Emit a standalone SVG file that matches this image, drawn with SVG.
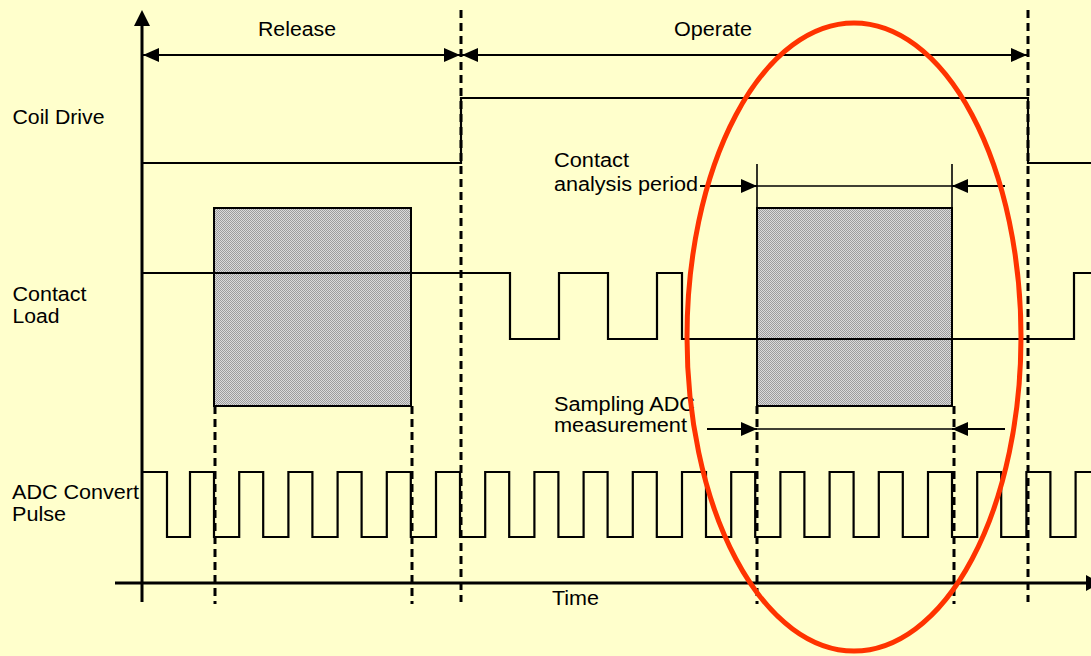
<svg xmlns="http://www.w3.org/2000/svg" width="1091" height="656" viewBox="0 0 1091 656">
<style>
.wave{fill:none;stroke:#000;stroke-width:2.2;stroke-linejoin:miter}
.axis{fill:none;stroke:#000;stroke-width:3}
.dash{fill:none;stroke:#000;stroke-width:3;stroke-dasharray:8 5}
.thin{fill:none;stroke:#000;stroke-width:1.6}
.dim{fill:none;stroke:#000;stroke-width:2}
.lbl{font-family:"Liberation Sans",Arial,sans-serif;font-size:19.5px;fill:#000}
.box{fill:url(#stipple);stroke:#000;stroke-width:2}
</style>
<defs>
<pattern id="stipple" width="2" height="2" patternUnits="userSpaceOnUse">
<rect width="2" height="2" fill="#dadada"/>
<rect x="0" y="0" width="1" height="1" fill="#9c9c9c"/>
<rect x="1" y="1" width="1" height="1" fill="#9c9c9c"/>
</pattern>
<marker id="ah" viewBox="0 0 16 14" refX="16" refY="7" markerWidth="16" markerHeight="14" markerUnits="userSpaceOnUse" orient="auto-start-reverse">
<path d="M0,0 L16,7 L0,14 Z" fill="#000"/>
</marker>
</defs>
<rect width="1091" height="656" fill="#ffffcc"/>

<g id="windows">
<rect class="box" x="214" y="208" width="197" height="198"/>
<rect class="box" x="757" y="208" width="195" height="198"/>
</g>

<g id="axes">
<line class="axis" x1="142" y1="24" x2="142" y2="602"/>
<polygon points="142,10 134,26 150,26" fill="#000"/>
<line class="axis" x1="115" y1="583" x2="1088" y2="583"/>
<polygon points="1086,575 1101,583 1086,591" fill="#000"/>
</g>

<g id="guides">
<line class="dash" x1="461" y1="10" x2="461" y2="602"/>
<line class="dash" x1="1028" y1="10" x2="1028" y2="602"/>
<line class="dash" x1="215" y1="406" x2="215" y2="604"/>
<line class="dash" x1="412" y1="406" x2="412" y2="604"/>
<line class="dash" x1="757" y1="406" x2="757" y2="604"/>
<line class="dash" x1="954" y1="406" x2="954" y2="604"/>
</g>

<g id="coil-drive">
<path class="wave" d="M142,163 H461 V98 H1028 V163 H1091"/>
</g>

<g id="contact-load">
<path class="wave" d="M142,273 H510 V339 H559 V273 H608 V339 H657 V273 H682 V339 H1074 V273 H1091"/>
</g>

<g id="adc-pulse">
<path class="wave" d="M142,472 H167 V537 H190 V472 H214 V537 H239.2 V472 H263.2 V537 H288.4 V472 H312.4 V537 H337.6 V472 H361.6 V537 H386.8 V472 H410.8 V537 H436 V472 H460 V537 H485.2 V472 H509.2 V537 H534.4 V472 H558.4 V537 H583.6 V472 H607.6 V537 H632.8 V472 H656.8 V537 H682 V472 H706 V537 H731.2 V472 H755.2 V537 H780.4 V472 H804.4 V537 H829.6 V472 H853.6 V537 H878.8 V472 H902.8 V537 H928 V472 H952 V537 H977.2 V472 H1001.2 V537 H1026.4 V472 H1050.4 V537 H1075.6 V472 H1091"/>
</g>

<g id="connectors">
<line class="dim" x1="143" y1="55" x2="460" y2="55" marker-start="url(#ah)" marker-end="url(#ah)"/>
<line class="dim" x1="462" y1="55" x2="1027" y2="55" marker-start="url(#ah)" marker-end="url(#ah)"/>
<line class="thin" x1="757" y1="164" x2="757" y2="208"/>
<line class="thin" x1="952" y1="164" x2="952" y2="208"/>
<line class="thin" x1="757" y1="186" x2="952" y2="186"/>
<line class="dim" x1="700" y1="186" x2="757" y2="186" marker-end="url(#ah)"/>
<line class="dim" x1="1005" y1="186" x2="952" y2="186" marker-end="url(#ah)"/>
<line class="thin" x1="757" y1="429" x2="952" y2="429"/>
<line class="dim" x1="707" y1="429" x2="757" y2="429" marker-end="url(#ah)"/>
<line class="dim" x1="1005" y1="429" x2="952" y2="429" marker-end="url(#ah)"/>
</g>

<g id="labels">
<text class="lbl" x="258" y="36" textLength="78" lengthAdjust="spacingAndGlyphs">Release</text>
<text class="lbl" x="674" y="36" textLength="78" lengthAdjust="spacingAndGlyphs">Operate</text>
<text class="lbl" x="12.5" y="124" textLength="92" lengthAdjust="spacingAndGlyphs">Coil Drive</text>
<text class="lbl" x="12.5" y="301" textLength="74" lengthAdjust="spacingAndGlyphs">Contact</text>
<text class="lbl" x="12.5" y="323" textLength="47" lengthAdjust="spacingAndGlyphs">Load</text>
<text class="lbl" x="12" y="499" textLength="127" lengthAdjust="spacingAndGlyphs">ADC Convert</text>
<text class="lbl" x="12" y="521" textLength="54" lengthAdjust="spacingAndGlyphs">Pulse</text>
<text class="lbl" x="554" y="167" textLength="75" lengthAdjust="spacingAndGlyphs">Contact</text>
<text class="lbl" x="554" y="191" textLength="144" lengthAdjust="spacingAndGlyphs">analysis period</text>
<text class="lbl" x="554" y="411" textLength="141" lengthAdjust="spacingAndGlyphs">Sampling ADC</text>
<text class="lbl" x="554" y="432" textLength="133" lengthAdjust="spacingAndGlyphs">measurement</text>
<text class="lbl" x="552" y="605" textLength="47" lengthAdjust="spacingAndGlyphs">Time</text>
</g>

<g id="highlight">
<ellipse cx="854" cy="337" rx="167" ry="314" fill="none" stroke="#ff3300" stroke-width="5"/>
</g>
</svg>
